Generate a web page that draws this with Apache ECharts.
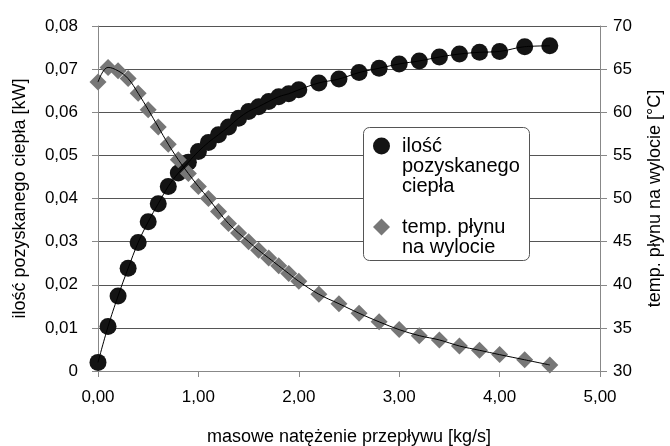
<!DOCTYPE html>
<html>
<head>
<meta charset="utf-8">
<script src="https://cdn.jsdelivr.net/npm/echarts@6/dist/echarts.min.js"></script>
<style>
    html, body { margin: 0; padding: 0; background: #fff; }
    #chart { width: 670px; height: 446px; }
</style>
</head>
<body>
<div id="chart"></div>
<script>
    // masowe natężenie przepływu [kg/s]
    var flow = [0, 0.1, 0.2, 0.3, 0.4, 0.5, 0.6, 0.7, 0.8, 0.9, 1.0,
        1.1, 1.2, 1.3, 1.4, 1.5, 1.6, 1.7, 1.8, 1.9, 2.0,
        2.2, 2.4, 2.6, 2.8, 3.0, 3.2, 3.4, 3.6, 3.8, 4.0, 4.25, 4.5];
    // ilość pozyskanego ciepła [kW]
    var heat = [0.0020, 0.0103, 0.0174, 0.0238, 0.0298, 0.0346, 0.0388, 0.0428, 0.0459, 0.0484, 0.0509,
        0.0530, 0.0548, 0.0566, 0.0586, 0.0602, 0.0613, 0.0625, 0.0636, 0.0643, 0.0652,
        0.0668, 0.0677, 0.0692, 0.0702, 0.0712, 0.0719, 0.0728, 0.0735, 0.0739, 0.0741, 0.0752, 0.0754];
    // temp. płynu na wylocie [°C]
    var tempOut = [63.5, 65.2, 64.8, 63.9, 62.2, 60.3, 58.3, 56.3, 54.5, 52.9, 51.4,
        50.0, 48.5, 47.1, 46.0, 45.0, 44.0, 43.1, 42.2, 41.3, 40.4,
        38.9, 37.8, 36.7, 35.7, 34.8, 34.1, 33.6, 32.9, 32.4, 31.9, 31.3, 30.7];

    var heatName = 'ilość pozyskanego ciepła';
    var tempName = 'temp. płynu na wylocie';
    // tekst legendy w kilku liniach (puste linie wyrównują ikonę do pierwszej linii)
    var legendText = {};
    legendText[heatName] = '\n\nilość\npozyskanego\nciepła';
    legendText[tempName] = '\ntemp. płynu\nna wylocie';

    function pairs(xs, ys) {
        return xs.map(function (x, i) { return [x, ys[i]]; });
    }
    function comma(v, digits) {
        return v.toFixed(digits).replace('.', ',');
    }

    var font = "'Liberation Sans', Arial, sans-serif";
    var myChart = echarts.init(document.getElementById('chart'));
    myChart.setOption({
        animation: false,
        textStyle: { fontFamily: font, color: '#000' },
        grid: {
            left: 98,
            right: 70,
            top: 26,
            bottom: 75,
            outerBoundsMode: 'none'
        },
        legend: {
            data: [heatName, tempName],
            orient: 'vertical',
            left: 373,
            top: 96,
            padding: 0,
            itemWidth: 17,
            itemHeight: 17,
            itemGap: 1,
            selectedMode: false,
            formatter: function (name) { return legendText[name]; },
            textStyle: {
                fontFamily: font,
                fontSize: 20,
                lineHeight: 20,
                color: '#000',
                padding: [0, 0, 0, 7]
            }
        },
        graphic: [{
            type: 'rect',
            left: 363,
            top: 127,
            z: 3,
            shape: { width: 166, height: 133, r: 6 },
            style: { fill: '#fff', stroke: '#555', lineWidth: 1 }
        }],
        xAxis: {
            type: 'value',
            min: 0,
            max: 5,
            interval: 1,
            name: 'masowe natężenie przepływu [kg/s]',
            nameLocation: 'middle',
            nameGap: 57,
            nameTextStyle: { fontFamily: font, fontSize: 18, color: '#000' },
            axisLine: { lineStyle: { color: '#888', width: 1 } },
            axisTick: { length: 6, lineStyle: { color: '#888' } },
            axisLabel: {
                margin: 18,
                fontSize: 17,
                color: '#000',
                formatter: function (v) { return comma(v, 2); }
            },
            splitLine: { show: false }
        },
        yAxis: [{
            type: 'value',
            min: 0,
            max: 0.08,
            interval: 0.01,
            name: 'ilość pozyskanego ciepła [kW]',
            nameLocation: 'middle',
            nameGap: 69,
            nameTextStyle: { fontFamily: font, fontSize: 18, color: '#000' },
            axisLine: { show: true, lineStyle: { color: '#888', width: 1 } },
            axisTick: { show: true, length: 6, lineStyle: { color: '#888' } },
            axisLabel: {
                margin: 20,
                fontSize: 17,
                color: '#000',
                formatter: function (v) {
                    return Math.abs(v) < 1e-9 ? '0' : comma(v, 2);
                }
            },
            splitLine: { show: true, lineStyle: { color: '#555', width: 1 } }
        }, {
            type: 'value',
            position: 'right',
            min: 30,
            max: 70,
            interval: 5,
            name: 'temp. płynu na wylocie [°C]',
            nameLocation: 'middle',
            nameGap: 46,
            nameTextStyle: { fontFamily: font, fontSize: 18, color: '#000' },
            axisLine: { show: true, lineStyle: { color: '#888', width: 1 } },
            axisTick: { show: true, length: 7, lineStyle: { color: '#888' } },
            axisLabel: { margin: 13, fontSize: 17, color: '#000' },
            splitLine: { show: false }
        }],
        series: [{
            name: heatName,
            type: 'scatter',
            yAxisIndex: 0,
            symbol: 'circle',
            symbolSize: 17,
            itemStyle: { color: '#141414', opacity: 1 },
            data: pairs(flow, heat),
            z: 2
        }, {
            name: tempName,
            type: 'scatter',
            yAxisIndex: 1,
            symbol: 'diamond',
            symbolSize: 17,
            itemStyle: { color: '#777', opacity: 1 },
            data: pairs(flow, tempOut),
            z: 2
        }, {
            // linie trendu
            type: 'line',
            yAxisIndex: 0,
            smooth: 0.4,
            showSymbol: false,
            silent: true,
            lineStyle: { color: '#000', width: 1 },
            data: pairs(flow, heat),
            z: 3
        }, {
            type: 'line',
            yAxisIndex: 1,
            smooth: 0.4,
            showSymbol: false,
            silent: true,
            lineStyle: { color: '#000', width: 1 },
            data: pairs(flow, tempOut),
            z: 3
        }]
    });
</script>
</body>
</html>
